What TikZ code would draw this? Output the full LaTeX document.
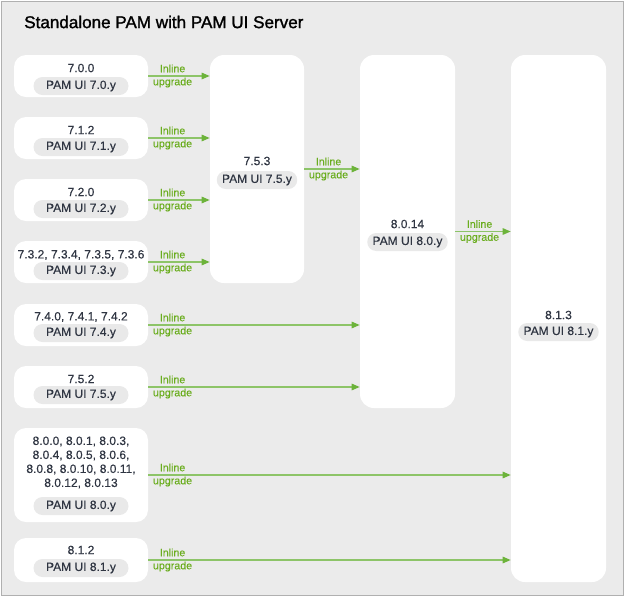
\documentclass[tikz,border=0pt]{standalone}
\usepackage{fontspec}
\setmainfont{Liberation Sans}[FakeBold=0.3]
\newfontfamily\titlefont{Liberation Sans}[FakeBold=1.4]
\usetikzlibrary{fit,arrows.meta}
\definecolor{bgc}{HTML}{EBEBEB}
\definecolor{framec}{HTML}{B0B0B0}
\definecolor{txtc}{HTML}{2F3542}
\definecolor{pillc}{HTML}{E9E9E9}
\definecolor{linec}{HTML}{8DC468}
\definecolor{headc}{HTML}{6CB33A}
\definecolor{labc}{HTML}{6AAD1E}
\begin{document}
\begin{tikzpicture}[x=0.75pt,y=-0.75pt,
  box/.style={fill=white, draw=none, rounded corners=9pt, inner sep=0pt},
  ver/.style={text=txtc, font=\fontsize{9}{10.5}\selectfont, inner sep=0pt, align=center},
  pill/.style={fill=pillc, text=txtc, font=\fontsize{9}{10.5}\selectfont, rounded corners=6.75pt, minimum height=13.5pt, inner xsep=4pt, inner ysep=0pt},
  lpill/.style={pill, minimum width=71.25pt},
  arr/.style={draw=linec, line width=1.1pt, -{Triangle[length=6pt,width=4.8pt,color=headc]}},
  lab/.style={text=labc, font=\fontsize{8}{9.75}\selectfont, align=center, inner sep=0pt, anchor=west, xshift=3pt}]
\path[use as bounding box] (0,0) rectangle (625,597);
\draw[framec, fill=bgc, line width=0.75pt] (1,1) rectangle (623.5,595.5);
\node[anchor=west, inner sep=0pt, text=black, font=\titlefont\fontsize{12.8}{15}\selectfont] (title) at (24,22) {Standalone PAM with PAM UI Server};
% left boxes
\node[box, fit={(14,55) (148,97)}] (b1) {};
\node[box, fit={(14,117) (148,159)}] (b2) {};
\node[box, fit={(14,179) (148,221)}] (b3) {};
\node[box, fit={(14,241) (148,283)}] (b4) {};
\node[box, fit={(14,304) (148,346)}] (b5) {};
\node[box, fit={(14,366) (148,408)}] (b6) {};
\node[box, fit={(14,428) (148,522)}] (b7) {};
\node[box, fit={(14,538) (148,582)}] (b8) {};
% columns
\node[box, rounded corners=10.5pt, fit={(210,55) (304,283)}] (c1) {};
\node[box, rounded corners=10.5pt, fit={(360,55) (455,408)}] (c2) {};
\node[box, rounded corners=10.5pt, fit={(511,55) (606,582)}] (c3) {};
% texts
\node[ver] (v1) at (81,68) {7.0.0};
\node[lpill] (p1) at (81,86) {PAM UI 7.0.y};
\node[ver] (v2) at (81,130) {7.1.2};
\node[lpill] (p2) at (81,147) {PAM UI 7.1.y};
\node[ver] (v3) at (81,192) {7.2.0};
\node[lpill] (p3) at (81,209) {PAM UI 7.2.y};
\node[ver] (v4) at (81,255) {7.3.2, 7.3.4, 7.3.5, 7.3.6};
\node[lpill] (p4) at (81,271) {PAM UI 7.3.y};
\node[ver] (v5) at (81,317) {7.4.0, 7.4.1, 7.4.2};
\node[lpill] (p5) at (81,333) {PAM UI 7.4.y};
\node[ver] (v6) at (81,379) {7.5.2};
\node[lpill] (p6) at (81,395) {PAM UI 7.5.y};
\node[ver] (v7) at (81,462.5) {8.0.0, 8.0.1, 8.0.3,\\8.0.4, 8.0.5, 8.0.6,\\8.0.8, 8.0.10, 8.0.11,\\8.0.12, 8.0.13};
\node[lpill] (p7) at (81,506) {PAM UI 8.0.y};
\node[ver] (v8) at (81,550) {8.1.2};
\node[lpill] (p8) at (81,568) {PAM UI 8.1.y};
\node[ver] (w1) at (257,161) {7.5.3};
\node[pill] (q1) at (257,180) {PAM UI 7.5.y};
\node[ver] (w2) at (407.5,224) {8.0.14};
\node[pill] (q2) at (407.5,242) {PAM UI 8.0.y};
\node[ver] (w3) at (558.5,315) {8.1.3};
\node[pill] (q3) at (558.5,332) {PAM UI 8.1.y};
% arrows
\draw[arr] (b1.east) -- (c1.west |- b1.east) node[lab, at start] {Inline\\upgrade};
\draw[arr] (b2.east) -- (c1.west |- b2.east) node[lab, at start] {Inline\\upgrade};
\draw[arr] (b3.east) -- (c1.west |- b3.east) node[lab, at start] {Inline\\upgrade};
\draw[arr] (b4.east) -- (c1.west |- b4.east) node[lab, at start] {Inline\\upgrade};
\draw[arr] (b5.east) -- (c2.west |- b5.east) node[lab, at start] {Inline\\upgrade};
\draw[arr] (b6.east) -- (c2.west |- b6.east) node[lab, at start] {Inline\\upgrade};
\draw[arr] (b7.east) -- (c3.west |- b7.east) node[lab, at start] {Inline\\upgrade};
\draw[arr] (b8.east) -- (c3.west |- b8.east) node[lab, at start] {Inline\\upgrade};
\draw[arr] (c1.east) -- (c2.west |- c1.east) node[lab, at start] {Inline\\upgrade};
\draw[arr] (c2.east) -- (c3.west |- c2.east) node[lab, at start] {Inline\\upgrade};
\end{tikzpicture}
\end{document}
